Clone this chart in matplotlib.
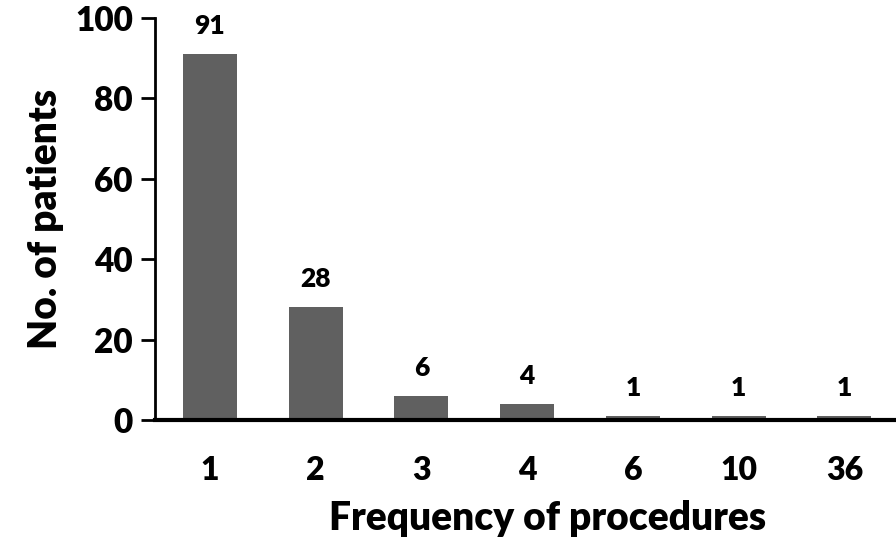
import matplotlib
matplotlib.use('Agg')
import matplotlib.pyplot as plt

categories = ['1', '2', '3', '4', '6', '10', '36']
patients = [91, 28, 6, 4, 1, 1, 1]

plt.rcParams['font.family'] = ['Lato', 'DejaVu Sans']
W = 'heavy'

fig = plt.figure(figsize=(8.96, 5.48), dpi=100)
ax = fig.add_axes([0.173, 0.2336, 0.826, 0.7334])

x = list(range(len(categories)))
bars = ax.bar(x, patients, width=0.51, color='#606060')

for bar, val in zip(bars, patients):
    ax.text(bar.get_x() + bar.get_width() / 2, val + 4, str(val),
            ha='center', va='bottom', fontsize=19, fontweight=W)

ax.set_xlim(-0.52, 6.48)
ax.set_ylim(0, 100)
ax.set_yticks([0, 20, 40, 60, 80, 100])
ax.set_xticks(x)
ax.set_xticklabels(categories)

ax.spines['top'].set_visible(False)
ax.spines['right'].set_visible(False)
ax.spines['left'].set_linewidth(2)
ax.spines['bottom'].set_linewidth(3)

ax.tick_params(axis='y', direction='out', length=10, width=2, labelsize=24, pad=6)
ax.tick_params(axis='x', length=0, labelsize=23, pad=26)
for lbl in ax.get_yticklabels() + ax.get_xticklabels():
    lbl.set_fontweight(W)

ax.set_ylabel('No. of patients', fontsize=28, fontweight=W, labelpad=8)
ax.set_xlabel('Frequency of procedures', fontsize=28, fontweight=W)
ax.xaxis.set_label_coords(0.53, -0.2)

fig.savefig('out.png', dpi=100, facecolor='white')
